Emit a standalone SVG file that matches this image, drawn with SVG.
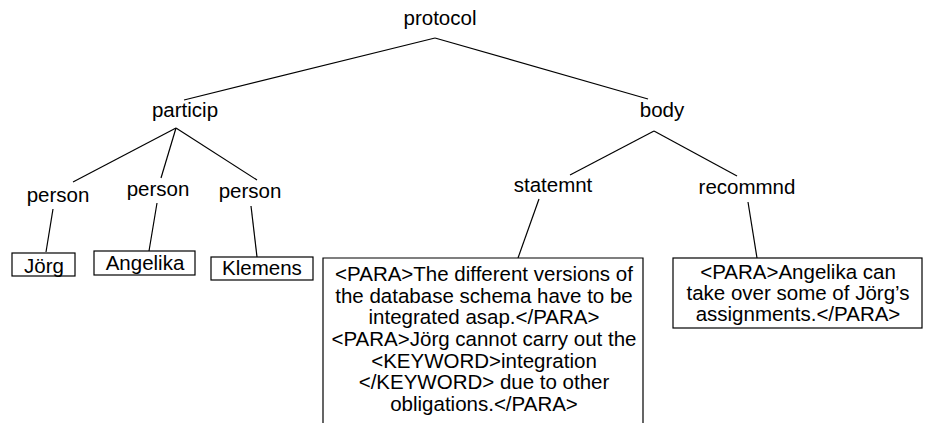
<svg xmlns="http://www.w3.org/2000/svg" width="925" height="423" viewBox="0 0 925 423">
  <style>
    text { font-family: "Liberation Sans", Arial, sans-serif; font-size: 20.5px; fill: #000; text-anchor: middle; }
    .edge { stroke: #000; stroke-width: 1.2; fill: none; }
    .box { stroke: #000; stroke-width: 1.2; fill: #fff; }
  </style>
  <rect width="925" height="423" fill="#fff"/>

  <!-- tree edges -->
  <g id="connectors">
    <path class="edge" d="M435 38 L184 100"/>
    <path class="edge" d="M435 38 L648 99"/>
    <path class="edge" d="M176 128 L73 182"/>
    <path class="edge" d="M176 128 L161 178"/>
    <path class="edge" d="M176 128 L257 180"/>
    <path class="edge" d="M654 131 L570 175"/>
    <path class="edge" d="M654 131 L737 176"/>
    <path class="edge" d="M53 209 L46 252"/>
    <path class="edge" d="M157 203 L149 251"/>
    <path class="edge" d="M251 206 L257 257"/>
    <path class="edge" d="M539 199 L518 258"/>
    <path class="edge" d="M748 202 L757 258"/>
  </g>

  <g id="protocol"><text x="440" y="25">protocol</text></g>
  <g id="particip"><text x="185" y="117">particip</text></g>
  <g id="body"><text x="662" y="117">body</text></g>
  <g id="person1"><text x="58" y="202">person</text></g>
  <g id="person2"><text x="158" y="196">person</text></g>
  <g id="person3"><text x="250" y="198">person</text></g>
  <g id="statemnt"><text x="553" y="192">statemnt</text></g>
  <g id="recommnd"><text x="747" y="194">recommnd</text></g>

  <g id="leaf-joerg">
    <rect class="box" x="12" y="253" width="63" height="23"/>
    <text x="44" y="273">Jörg</text>
  </g>
  <g id="leaf-angelika">
    <rect class="box" x="94" y="251" width="101" height="24"/>
    <text x="145" y="270">Angelika</text>
  </g>
  <g id="leaf-klemens">
    <rect class="box" x="211" y="257" width="102" height="23"/>
    <text x="262" y="275">Klemens</text>
  </g>

  <g id="leaf-statement">
    <path class="box" d="M323 424 L323 258 L643 258 L643 424"/>
    <text x="484" y="281">&lt;PARA&gt;The different versions of</text>
    <text x="484" y="303">the database schema have to be</text>
    <text x="484" y="324">integrated asap.&lt;/PARA&gt;</text>
    <text x="484" y="346">&lt;PARA&gt;Jörg cannot carry out the</text>
    <text x="484" y="368">&lt;KEYWORD&gt;integration</text>
    <text x="484" y="389">&lt;/KEYWORD&gt; due to other</text>
    <text x="484" y="411">obligations.&lt;/PARA&gt;</text>
  </g>

  <g id="leaf-recommend">
    <rect class="box" x="673" y="258" width="249" height="70"/>
    <text x="798" y="279">&lt;PARA&gt;Angelika can</text>
    <text x="798" y="300">take over some of Jörg’s</text>
    <text x="798" y="321">assignments.&lt;/PARA&gt;</text>
  </g>
</svg>
